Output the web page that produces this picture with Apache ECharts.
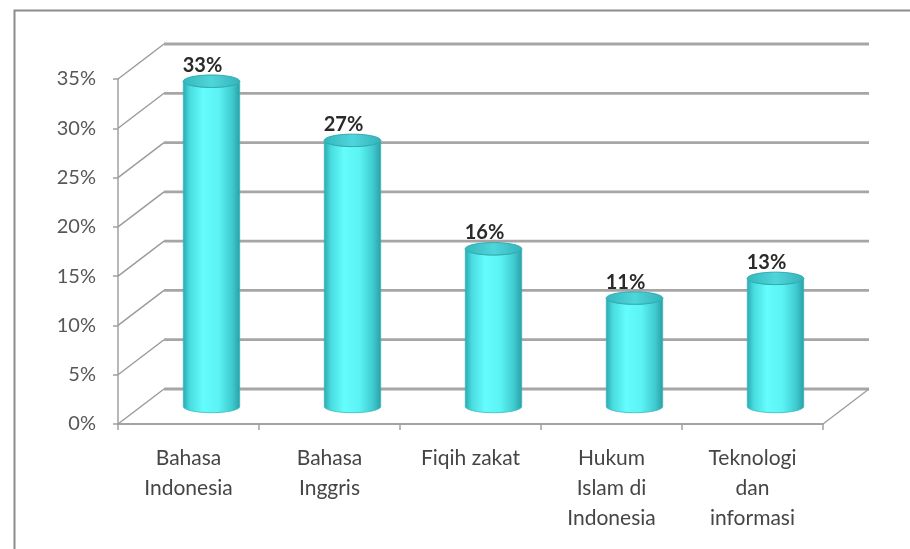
<!DOCTYPE html>
<html>
<head>
<meta charset="utf-8">
<script src="https://cdn.jsdelivr.net/npm/echarts@6/dist/echarts.min.js"></script>
<style>
  html, body { margin: 0; padding: 0; background: #fff; }
  #chart { width: 910px; height: 549px; }
</style>
</head>
<body>
<div id="chart"></div>
<script>
// Course categories and the share of respondents choosing each one
const categories = ['Bahasa\nIndonesia', 'Bahasa\nInggris', 'Fiqih zakat', 'Hukum\nIslam di\nIndonesia', 'Teknologi\ndan\ninformasi'];
const shares = [33, 27, 16, 11, 13];
// Value-axis ticks (percent)
const yTicks = [0, 5, 10, 15, 20, 25, 30, 35];

// Pseudo-3D depth of the plot box, in pixels (back plane offset)
const DX = 46, DY = -35;

const chart = echarts.init(document.getElementById('chart'));

// Side wall diagonals, back-wall gridlines and floor edge
function renderWall(params, api) {
  const v = api.value(1);
  const band = api.size([1, 0])[0];
  const p0 = api.coord([0, v]);
  const pN = api.coord([categories.length - 1, v]);
  const xl = p0[0] - band / 2, xr = pN[0] + band / 2, y = p0[1];
  const children = [
    { type: 'line', shape: { x1: xl, y1: y, x2: xl + DX, y2: y + DY },
      style: { stroke: '#9a9a9a', lineWidth: 1.4 } },
    { type: 'line', shape: { x1: xl + DX, y1: y + DY, x2: xr + DX, y2: y + DY },
      style: { stroke: '#a6a6a6', lineWidth: 2.8 } }
  ];
  if (v === 0) {
    children.push({ type: 'line', shape: { x1: xr, y1: y, x2: xr + DX, y2: y + DY },
      style: { stroke: '#9e9e9e', lineWidth: 1.4 } });
  }
  return { type: 'group', children };
}

// Cylinder for one category, standing at mid-depth
function renderCylinder(params, api) {
  const i = api.value(0), v = api.value(1);
  const band = api.size([1, 0])[0];
  const top = api.coord([i, v]);
  const base = api.coord([i, 0]);
  const r = band * 0.2;
  const ry = r * 0.22;
  const cx = top[0] + DX / 2;
  const ty = top[1] + DY / 2;
  const by = base[1] + DY / 2;
  const N = 40;

  const body = [[cx - r, ty], [cx - r, by]];
  for (let k = 1; k < N; k++) {
    const t = Math.PI - Math.PI * k / N;
    body.push([cx + r * Math.cos(t), by + ry * Math.sin(t)]);
  }
  body.push([cx + r, by], [cx + r, ty]);
  for (let k = 1; k < N; k++) {
    const t = Math.PI * k / N;
    body.push([cx + r * Math.cos(t), ty + ry * Math.sin(t)]);
  }

  const cap = [];
  for (let k = 0; k < 2 * N; k++) {
    const t = 2 * Math.PI * k / (2 * N);
    cap.push([cx + r * Math.cos(t), ty + ry * Math.sin(t)]);
  }

  return {
    type: 'group',
    children: [
      { type: 'polygon', shape: { points: body },
        style: {
          fill: { type: 'linear', x: 0, y: 0, x2: 1, y2: 0, colorStops: [
            { offset: 0, color: '#2aa8ae' },
            { offset: 0.12, color: '#48dcdf' },
            { offset: 0.35, color: '#64fcfc' },
            { offset: 0.62, color: '#5cf3f4' },
            { offset: 0.86, color: '#3fcbd0' },
            { offset: 1, color: '#2a9ea5' }
          ] },
          stroke: '#39b5bb', lineWidth: 0.8
        } },
      { type: 'polygon', shape: { points: cap },
        style: {
          fill: { type: 'linear', x: 0, y: 0, x2: 1, y2: 0, colorStops: [
            { offset: 0, color: '#33b7bd' },
            { offset: 0.5, color: '#4fd6da' },
            { offset: 1, color: '#33b3b9' }
          ] },
          stroke: '#2fa9af', lineWidth: 1
        } },
      { type: 'text',
        style: {
          text: v + '%', x: cx - 9, y: ty - 16,
          align: 'center', verticalAlign: 'middle',
          fontFamily: 'Lato', fontWeight: 'bold', fontSize: 20, fill: '#2a2a2a'
        } }
    ]
  };
}

const option = {
  backgroundColor: '#ffffff',
  animation: false,
  graphic: [{
    type: 'rect', left: 12, top: 8,
    shape: { width: 920, height: 560 },
    style: { fill: 'none', stroke: '#8c8c8c', lineWidth: 2 }
  }],
  grid: { left: 118, right: 87, top: 79, bottom: 125 },
  xAxis: {
    type: 'category',
    data: categories,
    axisLine: { show: true, lineStyle: { color: '#a3a3a3', width: 2 } },
    axisTick: { show: true, interval: 0, length: 6, lineStyle: { color: '#a3a3a3', width: 1.5 } },
    axisLabel: {
      interval: 0, margin: 19, color: '#454545',
      fontFamily: 'Lato', fontSize: 21, lineHeight: 30
    },
    splitLine: { show: false }
  },
  yAxis: {
    type: 'value',
    min: 0, max: 35, interval: 5,
    axisLine: { show: true, lineStyle: { color: '#a0a0a0', width: 1.5 } },
    axisTick: { show: true, length: 5, lineStyle: { color: '#a0a0a0', width: 1.5 } },
    axisLabel: {
      margin: 22, color: '#575757', fontFamily: 'Lato', fontSize: 20,
      formatter: '{value}%'
    },
    splitLine: { show: false }
  },
  series: [
    {
      type: 'custom', name: 'walls', z: 1, silent: true,
      renderItem: renderWall,
      data: yTicks.map(v => [0, v])
    },
    {
      type: 'custom', name: 'shares', z: 3,
      renderItem: renderCylinder,
      data: shares.map((v, i) => [i, v])
    }
  ]
};

chart.setOption(option);
</script>
</body>
</html>
